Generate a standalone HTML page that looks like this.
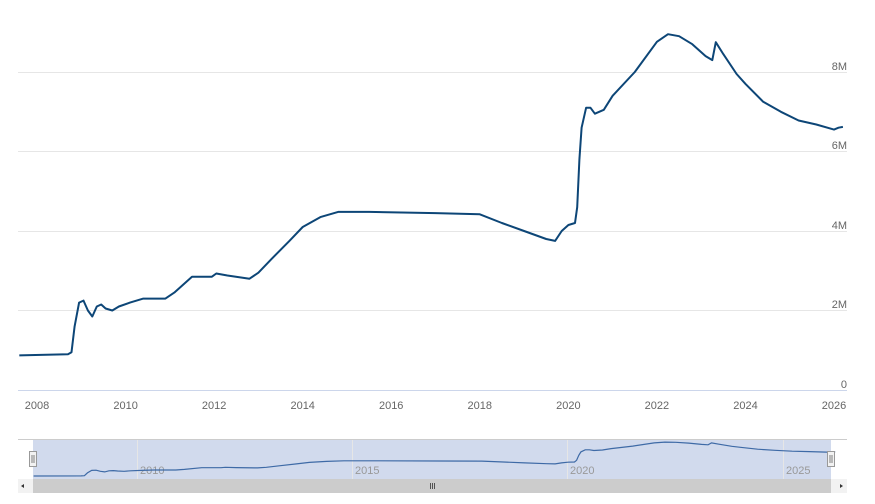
<!DOCTYPE html>
<html><head><meta charset="utf-8"><style>
html,body{margin:0;padding:0;background:#fff;}
svg{display:block;font-family:"Liberation Sans",sans-serif;}
</style></head><body>
<svg id="s" width="875" height="504" viewBox="0 0 875 504">
<g stroke="#e6e6e6" stroke-width="1">
<line x1="18" y1="72.5" x2="847" y2="72.5"/>
<line x1="18" y1="151.5" x2="847" y2="151.5"/>
<line x1="18" y1="231.5" x2="847" y2="231.5"/>
<line x1="18" y1="310.5" x2="847" y2="310.5"/>
</g>
<line x1="18" y1="390.5" x2="847" y2="390.5" stroke="#ccd6eb"/>
<g fill="#666" font-size="11" text-anchor="end">
<text x="847" y="70">8M</text><text x="847" y="149">6M</text>
<text x="847" y="229">4M</text><text x="847" y="308">2M</text>
<text x="847" y="388">0</text>
</g>
<g fill="#666" font-size="11" text-anchor="middle" id="xl"></g>
<path id="main" fill="none" stroke="#0d4677" stroke-width="2" stroke-linejoin="round"/>
<!-- navigator -->
<rect x="33" y="440" width="798" height="39" fill="#ccd6eb" fill-opacity="0.9"/>
<line x1="18" y1="439.5" x2="847" y2="439.5" stroke="#cccccc"/>
<g stroke="#e6e6e6"><line x1="137.5" y1="440" x2="137.5" y2="479"/><line x1="352.5" y1="440" x2="352.5" y2="479"/><line x1="567.5" y1="440" x2="567.5" y2="479"/><line x1="783.5" y1="440" x2="783.5" y2="479"/></g>
<g fill="#999" font-size="11"><text x="140" y="474">2010</text><text x="355" y="474">2015</text><text x="570" y="474">2020</text><text x="786" y="474">2025</text></g>
<path id="nav" fill="none" stroke="#3e6aa6" stroke-width="1.2"/>
<rect x="29.5" y="451.5" width="7" height="15" fill="#f2f2f2" stroke="#999"/>
<line x1="32" y1="455" x2="32" y2="463" stroke="#333" stroke-width="0.6"/><line x1="34" y1="455" x2="34" y2="463" stroke="#333" stroke-width="0.6"/>
<rect x="827.5" y="451.5" width="7" height="15" fill="#f2f2f2" stroke="#999"/>
<line x1="830" y1="455" x2="830" y2="463" stroke="#333" stroke-width="0.6"/><line x1="832" y1="455" x2="832" y2="463" stroke="#333" stroke-width="0.6"/>
<rect x="18" y="479" width="829" height="14" fill="#f2f2f2"/>
<rect x="33" y="479" width="798" height="14" fill="#cccccc"/>
<path d="M24 484 L21 486 L24 488Z" fill="#333"/><path d="M840 484 L843 486 L840 488Z" fill="#333"/>
<g stroke="#333" stroke-width="0.8"><line x1="430.5" y1="483" x2="430.5" y2="489"/><line x1="432.5" y1="483" x2="432.5" y2="489"/><line x1="434.5" y1="483" x2="434.5" y2="489"/></g>
</svg>
<script>
var d=[[2007.6,.87],[2008.7,.9],[2008.78,.95],[2008.85,1.6],[2008.95,2.2],[2009.05,2.25],[2009.15,2.0],[2009.25,1.85],[2009.35,2.1],[2009.45,2.15],[2009.55,2.05],[2009.7,2.0],[2009.85,2.1],[2010.1,2.2],[2010.4,2.3],[2010.9,2.3],[2011.1,2.45],[2011.5,2.85],[2011.95,2.85],[2012.05,2.93],[2012.3,2.88],[2012.8,2.8],[2013.0,2.95],[2013.3,3.3],[2013.7,3.75],[2014.0,4.1],[2014.4,4.35],[2014.8,4.48],[2015.5,4.48],[2017.0,4.45],[2018.0,4.42],[2018.5,4.2],[2019.0,4.0],[2019.5,3.8],[2019.7,3.75],[2019.85,4.0],[2020.0,4.15],[2020.15,4.2],[2020.2,4.6],[2020.25,5.8],[2020.3,6.6],[2020.4,7.1],[2020.5,7.1],[2020.6,6.95],[2020.8,7.05],[2021.0,7.4],[2021.5,8.0],[2022.0,8.76],[2022.25,8.95],[2022.5,8.9],[2022.8,8.7],[2023.1,8.4],[2023.25,8.3],[2023.33,8.75],[2023.5,8.45],[2023.8,7.95],[2024.0,7.7],[2024.4,7.25],[2024.8,7.0],[2025.2,6.78],[2025.6,6.68],[2026.0,6.55],[2026.1,6.6],[2026.2,6.62]];
var m="",n="";
d.forEach(function(p,i){var x=37+(p[0]-2008)*44.28,y=390-p[1]*39.75;m+=(i?"L":"M")+x.toFixed(1)+" "+y.toFixed(1);
var nx=137+(p[0]-2010)*43.1,ny=476-(p[1]-.87)*4.2;n+=(i?"L":"M")+nx.toFixed(1)+" "+ny.toFixed(1);});
document.getElementById("main").setAttribute("d",m);
document.getElementById("nav").setAttribute("d",n);
var g=document.getElementById("xl"),h="";
for(var yr=2008;yr<=2026;yr+=2){var x=37+(yr-2008)*44.28;h+='<text x="'+x.toFixed(1)+'" y="409">'+yr+'</text>';}
g.innerHTML=h;
</script>
</body></html>
